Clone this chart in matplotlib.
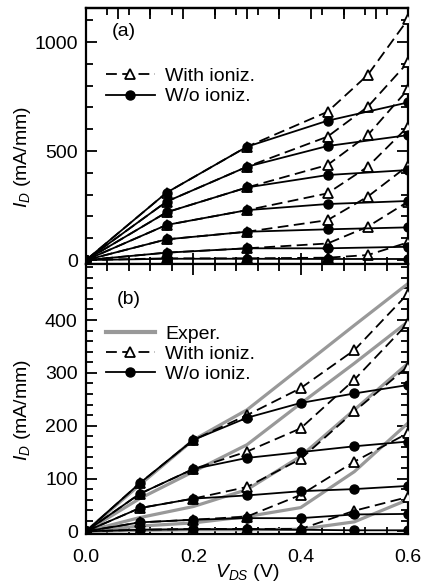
import matplotlib
matplotlib.use("Agg")
import matplotlib.pyplot as plt
from matplotlib.ticker import MultipleLocator, FixedLocator
from matplotlib.lines import Line2D

plt.rcParams['font.family'] = ['Liberation Sans', 'DejaVu Sans']
plt.rcParams['mathtext.fontset'] = 'custom'
plt.rcParams['mathtext.rm'] = 'Liberation Sans'
plt.rcParams['mathtext.it'] = 'Liberation Sans:italic'

# ---------------- Panel (a) data ----------------
xa_with = [0.0, 0.15, 0.3, 0.45, 0.525, 0.6]
xa_wo = [0.0, 0.15, 0.3, 0.45, 0.6]
ya_with = [
    [0, 309, 520, 680, 849, 1104],
    [0, 268, 428, 566, 703, 907],
    [0, 219, 333, 436, 573, 783],
    [0, 161, 229, 306, 428, 612],
    [0, 95, 130, 183, 291, 433],
    [0, 34, 54, 76, 153, 268],
    [0, 8, 8, 11, 23, 81],
]
ya_wo = [
    [0, 309, 520, 639, 723],
    [0, 268, 428, 523, 573],
    [0, 219, 333, 390, 413],
    [0, 161, 229, 257, 271],
    [0, 95, 130, 141, 150],
    [0, 34, 54, 54, 61],
    [0, 6, 6, 5, 5],
]

# ---------------- Panel (b) data ----------------
xb = [0.0, 0.1, 0.2, 0.3, 0.4, 0.5, 0.6]
yb_exp = [
    [0, 88, 173, 230, 310, 390, 469],
    [0, 62, 113, 164, 242, 318, 397],
    [0, 26, 47, 79, 142, 230, 318],
    [0, 10, 16, 28, 45, 113, 205],
    [0, 2, 3, 3, 4, 18, 60],
]
yb_with = [
    [0, 91, 173, 220, 271, 343, 450],
    [0, 71, 118, 151, 195, 287, 394],
    [0, 44, 62, 84, 137, 227, 312],
    [0, 17, 22, 28, 69, 132, 186],
    [0, 3, 4.5, 4.5, 4.5, 39, 65],
]
yb_wo = [
    [0, 91, 173, 215, 243, 261, 277],
    [0, 71, 118, 139, 150, 161, 170],
    [0, 44, 62, 68, 76, 80, 86],
    [0, 17, 22, 25, 25, 32, 33],
    [0, 3, 4, 4, 3, 2, 2],
]

ya_ticks = [0, 500, 1000]
yb_ticks = [0, 100, 200, 300, 400]
xb_ticks = [0.0, 0.2, 0.4, 0.6]
xb_ticklabels = ['0.0', '0.2', '0.4', '0.6']

label_with = "With ioniz."
label_wo = "W/o ioniz."
label_exp = "Exper."

FS = 14
LW = 1.3
DASH = (6, 3)
GRAY = '#999999'

fig = plt.figure(figsize=(4.30, 5.82), dpi=100)
W, H = 430, 582
left, right = 86, 408
ax_a = fig.add_axes([left / W, 1 - 264 / H, (right - left) / W, (264 - 8) / H])
ax_b = fig.add_axes([left / W, 1 - 534 / H, (right - left) / W, (534 - 264) / H])


def draw_with(ax, x, y):
    ln, = ax.plot(x, y, color='black', lw=LW, marker='^', markersize=7.5,
                  markerfacecolor='white', markeredgecolor='black',
                  markeredgewidth=1.3, zorder=3)
    ln.set_dashes(DASH)


def draw_wo(ax, x, y):
    ax.plot(x, y, color='black', lw=LW, marker='o', markersize=6.5,
            markerfacecolor='black', markeredgecolor='black', zorder=4)


for y in ya_with:
    draw_with(ax_a, xa_with, y)
for y in ya_wo:
    draw_wo(ax_a, xa_wo, y)

for y in yb_exp:
    ax_b.plot(xb, y, color=GRAY, lw=2.3, zorder=2)
for y in yb_with:
    draw_with(ax_b, xb, y)
for y in yb_wo:
    draw_wo(ax_b, xb, y)

ax_a.set_xlim(0, 0.6)
ax_a.set_ylim(-18, 1156)
ax_b.set_xlim(0, 0.6)
ax_b.set_ylim(-5, 506)

for ax in (ax_a, ax_b):
    ax.tick_params(which='both', direction='in', top=True, right=True,
                   labelsize=FS, width=1.3)
    ax.tick_params(which='major', length=8)
    ax.tick_params(which='minor', length=5)
    ax.tick_params(axis='y', pad=6)
    ax.tick_params(axis='x', pad=11)
    for s in ax.spines.values():
        s.set_linewidth(1.6)
    ax.xaxis.set_major_locator(MultipleLocator(0.2))
    ax.xaxis.set_minor_locator(MultipleLocator(0.04))

ax_a.yaxis.set_major_locator(FixedLocator(ya_ticks))
ax_a.yaxis.set_minor_locator(MultipleLocator(100))
ax_a.tick_params(axis='x', labelbottom=False, top=False)
sec = ax_a.secondary_xaxis('top')
sec.xaxis.set_major_locator(MultipleLocator(0.06))
sec.tick_params(direction='in', length=8, width=1.3, labeltop=False)
sec.spines['top'].set_linewidth(1.6)

ax_b.yaxis.set_major_locator(FixedLocator(yb_ticks))
ax_b.yaxis.set_minor_locator(MultipleLocator(20))
ax_b.set_xticks(xb_ticks)
ax_b.set_xticklabels(xb_ticklabels)

ylab = r'$I_D$ (mA/mm)'
ax_a.set_ylabel(ylab, fontsize=FS)
ax_b.set_ylabel(ylab, fontsize=FS)
ax_a.yaxis.set_label_coords(-0.165, 0.418)
ax_b.yaxis.set_label_coords(-0.165, 0.459)
ax_b.set_xlabel(r'$V_{DS}$ (V)', fontsize=FS)
ax_b.xaxis.set_label_coords((247 - left) / (right - left), -0.104)

ax_a.text(0.08, 0.91, '(a)', transform=ax_a.transAxes, fontsize=FS,
          ha='left', va='center')
ax_b.text(0.095, 0.87, '(b)', transform=ax_b.transAxes, fontsize=FS,
          ha='left', va='center')

h_with = Line2D([], [], color='black', lw=LW, marker='^', markersize=7.5,
                markerfacecolor='white', markeredgecolor='black',
                markeredgewidth=1.3, dashes=DASH)
h_wo = Line2D([], [], color='black', lw=LW, marker='o', markersize=6.5,
              markerfacecolor='black')
h_exp = Line2D([], [], color=GRAY, lw=3)

ax_a.legend([h_with, h_wo], [label_with, label_wo], loc='upper left',
            bbox_to_anchor=(0.02, 0.82), frameon=False, fontsize=FS,
            handlelength=2.5, handletextpad=0.55, labelspacing=0.13,
            borderaxespad=0.3)
ax_b.legend([h_exp, h_with, h_wo], [label_exp, label_with, label_wo],
            loc='upper left', bbox_to_anchor=(0.02, 0.823), frameon=False,
            fontsize=FS, handlelength=2.5, handletextpad=0.55,
            labelspacing=0.13, borderaxespad=0.3)

fig.savefig('out.png', dpi=100)
